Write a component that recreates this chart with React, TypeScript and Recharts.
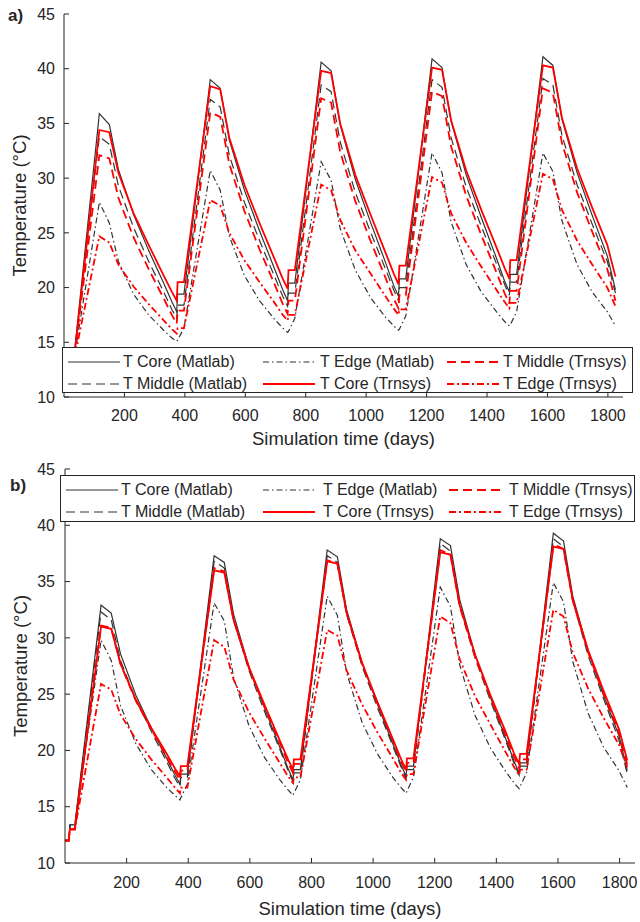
import React from 'react';
import { LineChart, Line, XAxis, YAxis, Label } from 'recharts';

// simulation days shared by every series (5 yearly charge / discharge cycles)
const days = [
  0, 12, 16, 32, 117, 150, 180, 230, 280, 330, 357, 373, 376, 397,
  484, 517, 547, 597, 647, 697, 724, 740, 743, 764,
  851, 884, 914, 964, 1014, 1064, 1091, 1107, 1110, 1131,
  1218, 1251, 1281, 1331, 1381, 1431, 1458, 1474, 1477, 1498,
  1585, 1618, 1648, 1698, 1748, 1798, 1825,
];

// panel a)
const coreMatlabA = [
  12.0, 12.0, 13.4, 13.4, 35.9, 34.9, 30.8, 26.7, 23.4, 20.4, 18.7, 17.8, 19.4, 19.4,
  39.0, 38.2, 33.5, 28.9, 25.2, 21.7, 19.8, 18.8, 20.4, 20.4,
  40.6, 39.8, 34.9, 29.9, 26.0, 22.3, 20.2, 19.2, 20.8, 20.8,
  40.9, 40.1, 35.2, 30.3, 26.4, 22.7, 20.6, 19.6, 21.2, 21.2,
  41.1, 40.3, 35.4, 30.5, 26.6, 22.9, 19.8,
];
const middleMatlabA = [
  12.0, 12.0, 13.4, 13.4, 33.8, 33.1, 29.3, 25.5, 22.4, 19.6, 18.0, 17.2, 18.4, 18.4,
  37.2, 36.5, 32.1, 27.8, 24.3, 21.0, 19.2, 18.3, 19.5, 19.5,
  38.5, 37.9, 33.3, 28.7, 25.1, 21.7, 19.8, 18.8, 20.0, 20.0,
  39.0, 38.3, 33.7, 29.2, 25.6, 22.2, 20.3, 19.3, 20.5, 20.5,
  39.1, 38.5, 33.9, 29.4, 25.8, 22.4, 19.5,
];
const edgeMatlabA = [
  12.0, 12.0, 13.3, 13.3, 27.8, 25.9, 22.4, 19.4, 17.5, 16.1, 15.4, 15.1, 15.2, 16.3,
  30.7, 28.9, 24.7, 21.1, 18.8, 17.1, 16.3, 15.9, 16.0, 17.2,
  31.5, 29.8, 25.4, 21.6, 19.1, 17.3, 16.5, 16.1, 16.2, 17.4,
  32.3, 30.5, 26.0, 22.1, 19.6, 17.8, 16.9, 16.5, 16.6, 17.8,
  32.3, 30.6, 26.1, 22.1, 19.6, 17.8, 16.5,
];
const coreTrnsysA = [
  12.0, 12.0, 13.2, 13.2, 34.4, 34.2, 30.5, 26.8, 23.9, 21.1, 19.6, 18.8, 20.5, 20.5,
  38.4, 38.1, 33.7, 29.4, 25.9, 22.6, 20.8, 19.9, 21.6, 21.6,
  39.8, 39.6, 35.0, 30.3, 26.7, 23.2, 21.3, 20.3, 22.0, 22.0,
  40.1, 39.9, 35.3, 30.7, 27.1, 23.7, 21.8, 20.8, 22.5, 22.5,
  40.3, 40.1, 35.5, 30.9, 27.3, 23.9, 21.0,
];
const middleTrnsysA = [
  12.0, 12.0, 13.2, 13.2, 32.1, 31.8, 28.2, 24.6, 21.7, 19.0, 17.5, 16.7, 17.9, 17.9,
  36.0, 35.6, 31.3, 27.0, 23.5, 20.3, 18.5, 17.6, 18.8, 18.8,
  37.3, 36.9, 32.4, 27.9, 24.3, 20.9, 19.0, 18.1, 19.3, 19.3,
  37.9, 37.5, 32.9, 28.4, 24.8, 21.4, 19.5, 18.5, 19.7, 19.7,
  38.2, 37.8, 33.2, 28.7, 25.1, 21.7, 18.8,
];
const edgeTrnsysA = [
  12.0, 12.0, 13.2, 13.2, 24.7, 24.1, 22.1, 20.1, 18.5, 17.0, 16.2, 15.8, 16.3, 16.3,
  28.0, 27.5, 25.0, 22.5, 20.5, 18.6, 17.5, 17.0, 17.5, 17.5,
  29.4, 28.9, 26.2, 23.4, 21.3, 19.2, 18.1, 17.5, 18.0, 18.0,
  30.1, 29.6, 26.8, 24.1, 21.9, 19.8, 18.7, 18.1, 18.6, 18.6,
  30.4, 29.9, 27.1, 24.3, 22.1, 20.0, 18.3,
];

// panel b)
const coreMatlabB = [
  12.0, 12.0, 13.4, 13.4, 32.9, 32.2, 28.6, 24.9, 22.0, 19.3, 17.8, 17.0, 17.9, 17.9,
  37.3, 36.7, 32.1, 27.4, 23.8, 20.3, 18.4, 17.4, 18.3, 18.3,
  37.8, 37.2, 32.5, 27.8, 24.1, 20.6, 18.7, 17.7, 18.6, 18.6,
  38.8, 38.2, 33.4, 28.5, 24.7, 21.0, 19.0, 18.0, 18.9, 18.9,
  39.3, 38.6, 33.7, 28.8, 24.9, 21.3, 18.2,
];
const middleMatlabB = [
  12.0, 12.0, 13.4, 13.4, 32.3, 31.6, 28.0, 24.5, 21.7, 19.0, 17.5, 16.8, 17.6, 17.6,
  36.8, 36.2, 31.6, 27.1, 23.5, 20.1, 18.2, 17.2, 18.0, 18.0,
  37.3, 36.7, 32.1, 27.5, 23.8, 20.4, 18.5, 17.5, 18.3, 18.3,
  38.4, 37.7, 32.9, 28.2, 24.4, 20.8, 18.8, 17.8, 18.6, 18.6,
  38.8, 38.1, 33.3, 28.4, 24.6, 20.9, 17.9,
];
const edgeMatlabB = [
  12.0, 12.0, 13.3, 13.3, 29.8, 28.0, 24.0, 20.6, 18.3, 16.7, 16.0, 15.6, 15.8, 17.0,
  33.1, 31.5, 26.5, 22.2, 19.4, 17.4, 16.5, 16.0, 16.2, 17.4,
  33.7, 32.0, 26.9, 22.5, 19.7, 17.6, 16.7, 16.2, 16.4, 17.6,
  34.5, 32.8, 27.6, 23.1, 20.2, 18.1, 17.1, 16.6, 16.8, 18.0,
  34.9, 33.2, 27.9, 23.3, 20.3, 18.2, 16.7,
];
const coreTrnsysB = [
  12.0, 12.0, 13.0, 13.0, 31.0, 30.8, 27.7, 24.5, 22.0, 19.7, 18.4, 17.7, 18.6, 18.6,
  36.0, 35.8, 31.6, 27.4, 24.1, 20.9, 19.2, 18.3, 19.2, 19.2,
  36.8, 36.6, 32.2, 27.8, 24.3, 21.0, 19.2, 18.3, 19.3, 19.3,
  37.6, 37.4, 32.9, 28.5, 24.9, 21.6, 19.7, 18.8, 19.7, 19.7,
  38.1, 37.9, 33.4, 28.9, 25.3, 21.9, 19.1,
];
const middleTrnsysB = [
  12.0, 12.0, 13.0, 13.0, 31.1, 30.9, 27.7, 24.4, 21.9, 19.4, 18.1, 17.4, 18.2, 18.2,
  36.2, 35.9, 31.6, 27.3, 23.9, 20.7, 18.9, 18.0, 18.8, 18.8,
  36.9, 36.6, 32.2, 27.7, 24.2, 20.9, 19.0, 18.1, 18.9, 18.9,
  37.8, 37.4, 32.8, 28.3, 24.7, 21.3, 19.4, 18.4, 19.2, 19.2,
  38.3, 37.9, 33.3, 28.7, 25.0, 21.6, 18.7,
];
const edgeTrnsysB = [
  12.0, 12.0, 13.0, 13.0, 25.9, 25.4, 23.2, 21.0, 19.2, 17.6, 16.7, 16.2, 16.7, 16.7,
  29.8, 29.2, 26.3, 23.4, 21.1, 18.9, 17.7, 17.1, 17.6, 17.6,
  30.7, 30.2, 27.1, 24.1, 21.6, 19.3, 18.0, 17.4, 17.9, 17.9,
  31.9, 31.3, 28.1, 24.8, 22.3, 19.8, 18.5, 17.8, 18.3, 18.3,
  32.5, 31.9, 28.7, 25.5, 22.9, 20.5, 18.5,
];

const xTicks = [200, 400, 600, 800, 1000, 1200, 1400, 1600, 1800];
const yTicks = [10, 15, 20, 25, 30, 35, 40, 45];

const FONT = '"Liberation Sans", Arial, Helvetica, sans-serif';
const INK = '#262626';

type SeriesStyle = { key: string; name: string; color: string; width: number; dash?: string };

const seriesStyles: SeriesStyle[] = [
  { key: 'coreM', name: 'T Core (Matlab)', color: '#333', width: 1.2 },
  { key: 'midM', name: 'T Middle (Matlab)', color: '#333', width: 1.2, dash: '9 5' },
  { key: 'edgeM', name: 'T Edge (Matlab)', color: '#333', width: 1.2, dash: '6 3 1.5 3' },
  { key: 'coreT', name: 'T Core (Trnsys)', color: '#ff0000', width: 1.8 },
  { key: 'midT', name: 'T Middle (Trnsys)', color: '#ff0000', width: 1.8, dash: '9 5' },
  { key: 'edgeT', name: 'T Edge (Trnsys)', color: '#ff0000', width: 1.8, dash: '7 3 2 3' },
];

// matlab legend, 3 columns filled column-wise
const legendRows = [
  ['coreM', 'edgeM', 'midT'],
  ['midM', 'coreT', 'edgeT'],
];

function toRows(cols: Record<string, number[]>) {
  return days.map((day, i) => {
    const row: Record<string, number> = { day };
    Object.keys(cols).forEach((k) => {
      row[k] = cols[k][i];
    });
    return row;
  });
}

const dataA = toRows({
  coreM: coreMatlabA, midM: middleMatlabA, edgeM: edgeMatlabA,
  coreT: coreTrnsysA, midT: middleTrnsysA, edgeT: edgeTrnsysA,
});
const dataB = toRows({
  coreM: coreMatlabB, midM: middleMatlabB, edgeM: edgeMatlabB,
  coreT: coreTrnsysB, midT: middleTrnsysB, edgeT: edgeTrnsysB,
});

const tickStyle = { fontSize: 16, fill: INK, fontFamily: FONT };
const titleStyle = { fontSize: 18.5, fill: INK, fontFamily: FONT };

type Box = { left: number; top: number; width: number; height: number; rowY: number[]; sample: number[]; text: number[] };

function LegendBox({ box }: { box: Box }) {
  return (
    <div
      style={{
        position: 'absolute', left: box.left, top: box.top, width: box.width, height: box.height,
        boxSizing: 'border-box', border: `1px solid ${INK}`, background: '#fff',
      }}
    >
      {legendRows.map((row, r) =>
        row.map((key, c) => {
          const s = seriesStyles.find((x) => x.key === key)!;
          const cy = box.rowY[r];
          return (
            <React.Fragment key={key}>
              <svg style={{ position: 'absolute', left: box.sample[c], top: cy - 4 }} width={52} height={8}>
                <line x1={0} x2={52} y1={4} y2={4} stroke={s.color} strokeWidth={s.width} strokeDasharray={s.dash} />
              </svg>
              <span
                style={{
                  position: 'absolute', left: box.text[c], top: cy - 10, fontSize: 16, lineHeight: '20px',
                  color: INK, whiteSpace: 'nowrap', fontFamily: FONT,
                }}
              >
                {s.name}
              </span>
            </React.Fragment>
          );
        })
      )}
    </div>
  );
}

type PanelProps = {
  top: number; height: number; data: Record<string, number>[];
  margin: { top: number; right: number; left: number; bottom: number };
  yWidth: number; xHeight: number; xTickMargin: number; yTickMargin: number;
  xTitleOffset: number; yTitleOffset: number;
};

function Panel(p: PanelProps) {
  return (
    <div style={{ position: 'absolute', left: 0, top: p.top }}>
      <LineChart width={640} height={p.height} data={p.data} margin={p.margin}>
        <XAxis
          dataKey="day" type="number" domain={[0, 1850]} ticks={xTicks} interval={0} allowDataOverflow
          height={p.xHeight} tickSize={-5} tickMargin={p.xTickMargin} stroke={INK} tick={tickStyle}
        >
          <Label value="Simulation time (days)" position="insideBottom" offset={p.xTitleOffset} style={titleStyle} />
        </XAxis>
        <XAxis
          xAxisId="top" orientation="top" type="number" domain={[0, 1850]} ticks={xTicks} interval={0}
          allowDataOverflow height={0} tickSize={-5} tick={false} stroke={INK}
        />
        <YAxis
          type="number" domain={[10, 45]} ticks={yTicks} interval={0} allowDataOverflow width={p.yWidth}
          tickSize={-5} tickMargin={p.yTickMargin} stroke={INK} tick={tickStyle}
        >
          <Label
            value="Temperature (°C)" angle={-90} position="insideLeft" offset={p.yTitleOffset}
            style={{ ...titleStyle, textAnchor: 'middle' }}
          />
        </YAxis>
        <YAxis
          yAxisId="right" orientation="right" type="number" domain={[10, 45]} ticks={yTicks} interval={0}
          allowDataOverflow width={0} tickSize={-5} tick={false} stroke={INK}
        />
        {seriesStyles.map((s) => (
          <Line
            key={s.key} dataKey={s.key} name={s.name} type="linear" stroke={s.color} strokeWidth={s.width}
            strokeDasharray={s.dash} dot={false} activeDot={false} isAnimationActive={false}
          />
        ))}
      </LineChart>
    </div>
  );
}

export default function App() {
  return (
    <div style={{ position: 'absolute', left: 0, top: 0, width: 640, height: 922, background: '#fff', fontFamily: FONT }}>
      <Panel
        top={0} height={460} data={dataA} margin={{ top: 14, right: 17, left: 0, bottom: 0 }}
        yWidth={64} xHeight={63} xTickMargin={18} yTickMargin={14} xTitleOffset={15} yTitleOffset={19}
      />
      <Panel
        top={460} height={462} data={dataB} margin={{ top: 9, right: 5, left: 0, bottom: 0 }}
        yWidth={65} xHeight={59} xTickMargin={19} yTickMargin={15} xTitleOffset={7} yTitleOffset={20}
      />
      <LegendBox
        box={{ left: 62, top: 347, width: 571, height: 46, rowY: [13.5, 35.5], sample: [5, 200, 384], text: [60, 257, 440] }}
      />
      <LegendBox
        box={{ left: 60, top: 475, width: 575, height: 47, rowY: [13.5, 35.5], sample: [5, 202, 388], text: [60, 262, 448] }}
      />
      <div style={{ position: 'absolute', left: 8, top: 6, fontSize: 17, fontWeight: 'bold', color: INK, fontFamily: FONT }}>a)</div>
      <div style={{ position: 'absolute', left: 10, top: 476, fontSize: 17, fontWeight: 'bold', color: INK, fontFamily: FONT }}>b)</div>
    </div>
  );
}
